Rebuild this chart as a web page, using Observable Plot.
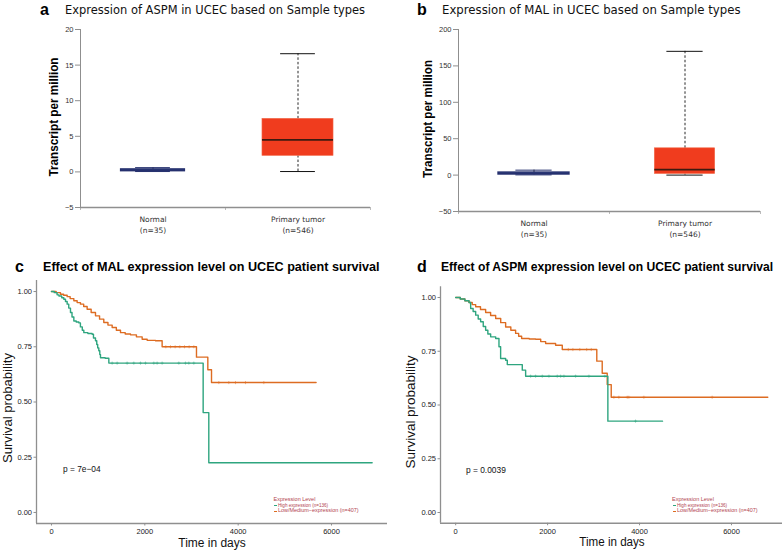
<!DOCTYPE html>
<html>
<head>
<meta charset="utf-8">
<script src="https://cdn.jsdelivr.net/npm/d3@7"></script>
<script src="https://cdn.jsdelivr.net/npm/@observablehq/plot@0.6"></script>
<style>
  html, body { margin: 0; padding: 0; background: #fff; }
  #fig { position: relative; width: 784px; height: 552px; background: #fff; overflow: hidden; }
  .t { position: absolute; white-space: nowrap; line-height: 1; }
  .panel { position: absolute; }
</style>
</head>
<body>
<div id="fig"></div>
<script>
// ---------------- DATA ----------------
const categories = ["Normal", "Primary tumor"];
const sampleN = [35, 546];

// ASPM expression (TPM) boxplot stats
const aspmMin    = [0.05, 0.05];
const aspmQ1     = [0.10, 2.25];
const aspmMedian = [0.25, 4.50];
const aspmQ3     = [0.35, 7.45];
const aspmMax    = [0.60, 16.6];
const aspmTicks  = [-5, 0, 5, 10, 15, 20];

// MAL expression (TPM) boxplot stats
const malMin    = [0.3, 0.0];
const malQ1     = [0.8, 1.5];
const malMedian = [2.5, 7.5];
const malQ3     = [3.5, 36.8];
const malMax    = [6.8, 170];
const malTicks  = [-50, 0, 50, 100, 150, 200];

// Kaplan-Meier step points [day, survival]
const malHigh = [[0,1],[60,0.995],[120,0.985],[160,0.98],[220,0.972],[264,0.965],[300,0.955],[336,0.943],[370,0.925],[407,0.905],[440,0.885],[479,0.867],[530,0.862],[586,0.858],[620,0.84],[660,0.825],[693,0.814],[780,0.81],[871,0.807],[900,0.79],[943,0.777],[970,0.76],[990,0.745],[1014,0.732],[1035,0.715],[1050,0.70],[1150,0.698],[1229,0.676],[3250,0.452],[3371,0.225],[6871,0.225]];
const malLow = [[0,1],[100,0.995],[193,0.988],[260,0.983],[336,0.977],[400,0.968],[479,0.958],[550,0.95],[621,0.943],[690,0.932],[764,0.92],[850,0.905],[943,0.89],[1030,0.875],[1121,0.86],[1210,0.848],[1300,0.837],[1390,0.825],[1479,0.814],[1580,0.808],[1693,0.804],[1820,0.795],[1943,0.784],[2050,0.779],[2229,0.777],[2371,0.75],[3107,0.703],[3350,0.646],[3429,0.588],[5670,0.588]];
const aspmHigh = [[0,1],[100,0.993],[200,0.985],[290,0.977],[326,0.949],[380,0.935],[435,0.918],[490,0.9],[543,0.887],[600,0.865],[652,0.848],[700,0.83],[761,0.817],[870,0.809],[942,0.771],[978,0.716],[1087,0.708],[1123,0.688],[1449,0.662],[1522,0.634],[3311,0.425],[4500,0.425]];
const aspmLow = [[0,1],[100,0.993],[200,0.985],[290,0.977],[360,0.967],[435,0.957],[540,0.944],[652,0.93],[760,0.916],[870,0.902],[980,0.883],[1087,0.863],[1200,0.848],[1304,0.833],[1370,0.82],[1435,0.809],[1600,0.807],[1739,0.806],[1850,0.795],[1957,0.786],[2174,0.778],[2319,0.758],[3070,0.704],[3188,0.648],[3297,0.595],[3384,0.536],[6790,0.536]];

// censored observation times (days)
const malHighCensor  = [1300,1407,1621,1764,1907,2014,2193,2264,2371,2729,2871,2943,3050];
const malLowCensor   = [2450,2550,2650,2750,2850,2950,3050,3586,3800,3943,4157,4550];
const aspmHighCensor = [1630,1739,1884,2029,2210,2283,2355,2609,2899,3246,3913];
const aspmLowCensor  = [2450,2550,2700,2850,2950,3442,3550,3732,3768,4094,5580];

const kmTicksY = [0, 0.25, 0.5, 0.75, 1];
const kmTicksX = [0, 2000, 4000, 6000];
const legendTitle = "Expression Level";
const legendHigh = "High expression (n=136)";
const legendLow = "Low/Medium\u2212expression (n=407)";

// ---------------- STYLE ----------------
const GREEN = "#2ea57f";
const ORANGE = "#dd6c22";
const BOXRED = "#f03c1e";
const NAVY = "#25306e";
const AXIS = "#8f8f8f";
const fig = document.getElementById("fig");

function addText(txt, x, y, opts = {}) {
  const el = document.createElement("div");
  el.className = "t";
  el.textContent = txt;
  el.style.left = x + "px";
  el.style.top = y + "px";
  el.style.fontSize = (opts.size || 12) + "px";
  el.style.fontWeight = opts.weight || "normal";
  el.style.fontFamily = opts.family || "'Liberation Sans', Arial, sans-serif";
  el.style.color = opts.color || "#000";
  fig.appendChild(el);
  let s = 1;
  if (opts.width) s = opts.width / el.offsetWidth;
  if (opts.rotate) {
    el.style.transformOrigin = "50% 50%";
    el.style.transform = `translate(-50%,-50%) rotate(-90deg) scale(${s},1)`;
  } else if (opts.anchor === "middle") {
    el.style.transformOrigin = "50% 50%";
    el.style.transform = `translate(-50%,-50%) scale(${s},1)`;
  } else {
    el.style.transformOrigin = "0 50%";
    el.style.transform = `translateY(-50%) scale(${s},1)`;
  }
  return el;
}

function place(svg, left, top) {
  const d = document.createElement("div");
  d.className = "panel";
  d.style.left = left + "px";
  d.style.top = top + "px";
  d.appendChild(svg);
  fig.appendChild(d);
}

function boxTable(mn, q1, md, q3, mx) {
  return categories.map((c, i) => ({i, c, n: sampleN[i], min: mn[i], q1: q1[i], median: md[i], q3: q3[i], max: mx[i]}));
}

function boxPanel(data, ydomain, yticks, m, halfBox) {
  const cx = d => d.i + 0.5;
  const capHalf = 0.12;
  return Plot.plot({
    width: 392, height: 250,
    marginLeft: m.l, marginRight: m.r, marginTop: m.t, marginBottom: m.b,
    x: {domain: [0, categories.length]},
    y: {domain: ydomain},
    style: {background: "transparent", overflow: "visible", color: "#333", fontFamily: "'Liberation Sans', Arial, sans-serif"},
    marks: [
      Plot.axisY({ticks: yticks, tickSize: 5, tickPadding: 2, fontSize: 7.5, stroke: AXIS, label: null}),
      Plot.axisX({ticks: categories.map((c, i) => i + 0.5), tickSize: 0, tickPadding: 7,
        tickFormat: t => `${categories[Math.floor(t)]}\n(n=${sampleN[Math.floor(t)]})`,
        fontSize: 7.5, lineHeight: 1.45, fontFamily: "'DejaVu Sans', sans-serif", label: null}),
      Plot.axisX({ticks: d3.range(categories.length + 1), tickSize: 3, tickFormat: () => "", stroke: "#bbb", label: null}),
      Plot.ruleX([0], {stroke: AXIS, strokeWidth: 1}),
      Plot.ruleY([ydomain[0]], {stroke: AXIS, strokeWidth: 1.3}),
      // whiskers
      Plot.ruleX(data, {x: cx, y1: "q3", y2: "max", stroke: "#111", strokeWidth: 0.9, strokeDasharray: "2.5,2"}),
      Plot.ruleX(data, {x: cx, y1: "min", y2: "q1", stroke: "#111", strokeWidth: 0.9, strokeDasharray: "2.5,2"}),
      Plot.ruleY(data, {y: "max", x1: d => cx(d) - capHalf, x2: d => cx(d) + capHalf, stroke: d => d.i === 0 ? NAVY : "#111", strokeWidth: 1}),
      Plot.ruleY(data, {y: "min", x1: d => cx(d) - capHalf, x2: d => cx(d) + capHalf, stroke: d => d.i === 0 ? NAVY : "#111", strokeWidth: 1}),
      // boxes
      Plot.rect(data, {x1: d => cx(d) - halfBox[d.i], x2: d => cx(d) + halfBox[d.i], y1: "q1", y2: "q3",
        fill: d => d.i === 0 ? "#4a5aa0" : BOXRED, stroke: d => d.i === 0 ? NAVY : "#f26a4a", strokeWidth: d => d.i === 0 ? 1.4 : 0.6}),
      Plot.ruleY(data, {y: "median", x1: d => cx(d) - halfBox[d.i], x2: d => cx(d) + halfBox[d.i], stroke: d => d.i === 0 ? NAVY : "#3d1a10", strokeWidth: 1.6})
    ]
  });
}

function survAt(curve, t) {
  let s = curve[0][1];
  for (const [d, v] of curve) { if (d <= t) s = v; else break; }
  return s;
}

function kmPanel(high, low, highC, lowC, xdomain, m, h) {
  const rows = [...high.map(([d, s]) => ({d, s, g: "High"})), ...low.map(([d, s]) => ({d, s, g: "Low"}))];
  const cens = [...highC.map(d => ({d, s: survAt(high, d), g: "High"})), ...lowC.map(d => ({d, s: survAt(low, d), g: "Low"}))];
  const col = g => g === "High" ? GREEN : ORANGE;
  return Plot.plot({
    width: 392, height: h,
    marginLeft: m.l, marginRight: m.r, marginTop: m.t, marginBottom: m.b,
    x: {domain: xdomain},
    y: {domain: [-0.05, 1.05]},
    style: {background: "transparent", overflow: "visible", color: "#222", fontFamily: "'Liberation Sans', Arial, sans-serif"},
    marks: [
      Plot.axisY({ticks: kmTicksY, tickFormat: d3.format(".2f"), tickSize: 2.5, tickPadding: 2, fontSize: 7.5, stroke: AXIS, label: null}),
      Plot.axisX({ticks: kmTicksX, tickFormat: d => String(d), tickSize: 2.5, tickPadding: 2.5, fontSize: 7.5, stroke: AXIS, label: null}),
      Plot.ruleX([xdomain[0]], {stroke: AXIS, strokeWidth: 1.3}),
      Plot.ruleY([-0.05], {stroke: AXIS, strokeWidth: 1.3}),
      Plot.line(rows.filter(r => r.g === "Low"), {x: "d", y: "s", curve: "step-after", stroke: ORANGE, strokeWidth: 1.4}),
      Plot.line(rows.filter(r => r.g === "High"), {x: "d", y: "s", curve: "step-after", stroke: GREEN, strokeWidth: 1.4}),
      Plot.dot(cens, {x: "d", y: "s", symbol: "plus", r: 1.1, stroke: d => col(d.g), strokeWidth: 0.6, strokeOpacity: 0.8})
    ]
  });
}

// ---------------- PANELS ----------------
place(boxPanel(boxTable(aspmMin, aspmQ1, aspmMedian, aspmQ3, aspmMax), [-5, 20], aspmTicks,
  {l: 80, r: 22, t: 29, b: 43}, [0.22, 0.245]), 0, 0);
place(boxPanel(boxTable(malMin, malQ1, malMedian, malQ3, malMax), [-50, 200], malTicks,
  {l: 66, r: 24, t: 29, b: 39}, [0.235, 0.2]), 392, 0);

place(kmPanel(malHigh, malLow, malHighCensor, malLowCensor, [-321, 7200], {l: 36, r: 5, t: 4, b: 29}, 276), 0, 276);
place(kmPanel(aspmHigh, aspmLow, aspmHighCensor, aspmLowCensor, [-330, 7110], {l: 48, r: 2, t: 10.25, b: 29.25}, 276), 392, 276);

// ---------------- TEXT ----------------
const LBL = "'Liberation Sans', Arial, sans-serif";
const TTL = "'DejaVu Sans', sans-serif";
addText("a", 40, 10, {size: 16, weight: "bold", family: LBL});
addText("Expression of ASPM in UCEC based on Sample types", 65, 10, {size: 12.5, family: TTL, width: 300, color: "#111"});
addText("b", 417, 10, {size: 16, weight: "bold", family: LBL});
addText("Expression of MAL in UCEC based on Sample types", 442, 10, {size: 12.5, family: TTL, width: 299, color: "#111"});
addText("c", 15, 267, {size: 16, weight: "bold", family: LBL});
addText("Effect of MAL expression level on UCEC patient survival", 43, 267, {size: 13.5, weight: "bold", family: LBL, width: 337});
addText("d", 417, 267, {size: 16, weight: "bold", family: LBL});
addText("Effect of ASPM expression level on UCEC patient survival", 441, 267, {size: 13.5, weight: "bold", family: LBL, width: 332});

addText("Transcript per million", 54, 117, {size: 12, weight: "bold", family: LBL, rotate: true, width: 119});
addText("Transcript per million", 428, 119, {size: 12, weight: "bold", family: LBL, rotate: true, width: 118});

addText("Survival probability", 7, 408, {size: 13, family: LBL, rotate: true, width: 110, color: "#111"});
addText("Survival probability", 410, 412, {size: 13, family: LBL, rotate: true, width: 113, color: "#111"});
addText("Time in days", 212, 543, {size: 12.5, family: LBL, anchor: "middle", width: 67, color: "#111"});
addText("Time in days", 612, 542, {size: 12.5, family: LBL, anchor: "middle", width: 65, color: "#111"});

addText("p = 7e\u221204", 63, 469, {size: 9, family: LBL, width: 38, color: "#111"});
addText("p = 0.0039", 466, 470, {size: 9, family: LBL, width: 40, color: "#111"});

function legend(x, y) {
  const LC = "#b2444f";
  addText(legendTitle, x, y, {size: 5.5, family: LBL, color: LC, width: 42});
  const items = [[legendHigh, GREEN, 53], [legendLow, ORANGE, 84]];
  items.forEach(([txt, c, w], k) => {
    const yy = y + 5.5 * (k + 1);
    const dash = document.createElement("div");
    dash.style.cssText = `position:absolute;left:${x + 0.5}px;top:${yy - 0.5}px;width:3px;height:1px;background:${c}`;
    fig.appendChild(dash);
    addText(txt, x + 4.5, yy, {size: 5.5, family: LBL, color: LC, width: w - 3});
  });
}
legend(273.5, 500);
legend(672, 500);
</script>
</body>
</html>
